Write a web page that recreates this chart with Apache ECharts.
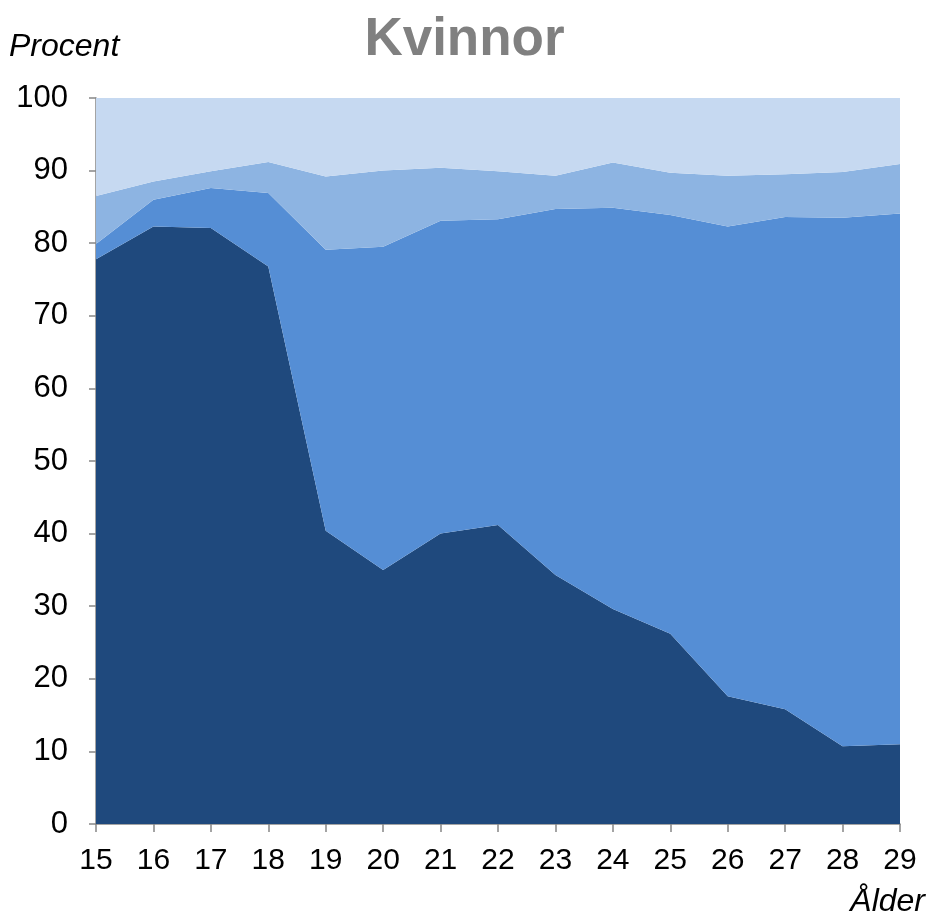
<!DOCTYPE html>
<html>
<head>
<meta charset="utf-8">
<script src="https://cdn.jsdelivr.net/npm/echarts@6/dist/echarts.min.js"></script>
<style>
  html, body { margin: 0; padding: 0; background: #fff; }
  #chart { width: 929px; height: 916px; }
</style>
</head>
<body>
<div id="chart"></div>
<script>
// ålder 15-29
var ages = ['15','16','17','18','19','20','21','22','23','24','25','26','27','28','29'];
// andel i procent, nedifrån och upp (staplade)
var grupp1 = [77.8, 82.3, 82.1, 76.8, 40.4, 35.0, 40.0, 41.2, 34.3, 29.6, 26.2, 17.6, 15.8, 10.7, 11.0];
var grupp2 = [2.1, 3.7, 5.5, 10.1, 38.7, 44.5, 43.1, 42.1, 50.4, 55.3, 57.7, 64.7, 67.8, 72.8, 73.1];
var grupp3 = [6.6, 2.5, 2.3, 4.3, 10.1, 10.5, 7.3, 6.6, 4.6, 6.2, 5.8, 7.0, 5.9, 6.3, 6.8];
var grupp4 = [13.5, 11.5, 10.1, 8.8, 10.8, 10.0, 9.6, 10.1, 10.7, 8.9, 10.3, 10.7, 10.5, 10.2, 9.1];

var colors = ['#1F497D', '#558ED5', '#8DB4E2', '#C6D9F1'];

var chart = echarts.init(document.getElementById('chart'));

function area(name, data, color) {
  return {
    name: name,
    type: 'line',
    stack: 'total',
    data: data,
    showSymbol: false,
    symbol: 'none',
    lineStyle: { width: 0 },
    areaStyle: { color: color, opacity: 1 },
    itemStyle: { color: color },
    silent: true
  };
}

var option = {
  animation: false,
  textStyle: { fontFamily: 'Liberation Sans, Arial, sans-serif' },
  title: {
    text: 'Kvinnor',
    left: 'center',
    top: 9,
    textStyle: { fontSize: 53, fontWeight: 'bold', color: '#808080', fontFamily: 'Liberation Sans, Arial, sans-serif' }
  },
  grid: { left: 96, right: 29, top: 98, bottom: 92, outerBoundsMode: 'none', containLabel: false },
  xAxis: {
    type: 'category',
    data: ages,
    boundaryGap: false,
    name: 'Ålder',
    nameLocation: 'end',
    nameGap: 0,
    nameTextStyle: {
      fontSize: 32, fontStyle: 'italic', color: '#000',
      align: 'right', verticalAlign: 'top', padding: [62, -25, 0, 0]
    },
    axisLine: { lineStyle: { color: '#868686', width: 1.5 } },
    axisTick: { length: 8, lineStyle: { color: '#868686', width: 1.5 } },
    axisLabel: { fontSize: 30, color: '#000', margin: 22 },
    splitLine: { show: false }
  },
  yAxis: {
    type: 'value',
    min: 0,
    max: 100,
    interval: 10,
    name: 'Procent',
    nameLocation: 'end',
    nameGap: 35,
    nameTextStyle: {
      fontSize: 32, fontStyle: 'italic', color: '#000',
      align: 'left', padding: [0, 0, 0, -87]
    },
    axisLine: { show: true, lineStyle: { color: '#868686', width: 1.5 } },
    axisTick: { show: true, length: 7, lineStyle: { color: '#868686', width: 1.5 } },
    axisLabel: { fontSize: 31, color: '#000', margin: 28 },
    splitLine: { show: false }
  },
  series: [
    area('Grupp 1', grupp1, colors[0]),
    area('Grupp 2', grupp2, colors[1]),
    area('Grupp 3', grupp3, colors[2]),
    area('Grupp 4', grupp4, colors[3])
  ]
};

chart.setOption(option);
</script>
</body>
</html>
